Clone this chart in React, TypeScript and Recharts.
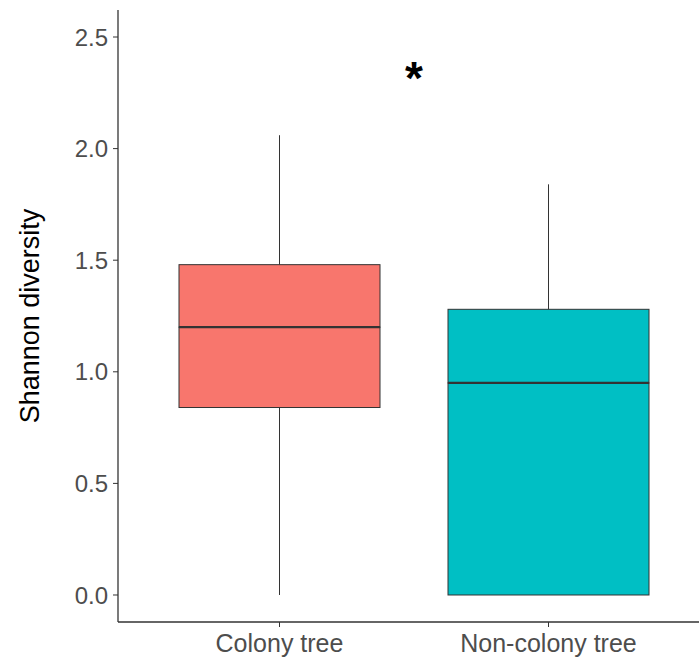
import React from "react";
import {
  ComposedChart,
  Bar,
  Cell,
  XAxis,
  YAxis,
  ReferenceArea,
} from "recharts";

const categories = ["Colony tree", "Non-colony tree"];
const minVals = [0, 0];
const q1Vals = [0.84, 0];
const medianVals = [1.2, 0.95];
const q3Vals = [1.48, 1.28];
const maxVals = [2.06, 1.84];
const yTicks = [0, 0.5, 1, 1.5, 2, 2.5];
const starValue = [2.32, 2.4];

const BOX_COLORS = ["#F8766D", "#00BFC4"];
const LINE = "#333333";
const FONT = "'Liberation Sans', Arial, sans-serif";

// stacked segments: invisible base, lower whisker, lower half box, upper half box, upper whisker
const data = categories.map((name, i) => ({
  name,
  base: minVals[i],
  lowWhisker: q1Vals[i] - minVals[i],
  lowBox: medianVals[i] - q1Vals[i],
  highBox: q3Vals[i] - medianVals[i],
  highWhisker: maxVals[i] - q3Vals[i],
}));

const Empty = () => <g />;

const Whisker = (props: any) => {
  const { x, y, width, height } = props;
  const cx = x + width / 2;
  return <line x1={cx} x2={cx} y1={y} y2={y + height} stroke={LINE} strokeWidth={1} />;
};

const BoxPart = (props: any) => {
  const { x, y, width, height, fill } = props;
  return (
    <rect x={x} y={y} width={width} height={Math.max(height, 0)} fill={fill} stroke={LINE} strokeWidth={1} />
  );
};

const UpperBox = (props: any) => {
  const { x, y, width, height, fill } = props;
  return (
    <g>
      <rect x={x} y={y} width={width} height={Math.max(height, 0)} fill={fill} stroke={LINE} strokeWidth={1} />
      <line x1={x} x2={x + width} y1={y + height} y2={y + height} stroke={LINE} strokeWidth={2.2} />
    </g>
  );
};

const StarLabel = (props: any) => {
  const vb = props.viewBox || {};
  const cx = vb.x + vb.width / 2;
  const cy = vb.y + vb.height / 2;
  const fs = 46;
  return (
    <text x={cx} y={cy + fs * 0.57} textAnchor="middle" fontSize={fs} fontWeight="bold" fill="#000" fontFamily={FONT}>
      *
    </text>
  );
};

const YTitle = (props: any) => {
  const vb = props.viewBox || {};
  const x = vb.x + 39;
  const y = vb.y + vb.height / 2;
  return (
    <text x={x} y={y} transform={`rotate(-90, ${x}, ${y})`} textAnchor="middle" fontSize={27} fill="#000" fontFamily={FONT}>
      Shannon diversity
    </text>
  );
};

export default function App() {
  return (
    <div style={{ position: "absolute", left: 0, top: 0, width: 699, height: 661, background: "#fff" }}>
      <ComposedChart
        width={699}
        height={661}
        data={data}
        margin={{ top: 10, right: 0, left: 0, bottom: 0 }}
        barSize={201}
      >
        <XAxis
          dataKey="name"
          type="category"
          height={39}
          padding={{ left: 27, right: 16 }}
          axisLine={{ stroke: LINE, strokeWidth: 1.3 }}
          tickLine={{ stroke: LINE, strokeWidth: 1 }}
          tickSize={5}
          tickMargin={7}
          tick={{ fill: "#4d4d4d", fontSize: 25, fontFamily: FONT }}
          interval={0}
        />
        <YAxis
          type="number"
          width={118}
          domain={[-0.121, 2.621]}
          allowDataOverflow
          ticks={yTicks}
          tickFormatter={(v: number) => v.toFixed(1)}
          axisLine={{ stroke: LINE, strokeWidth: 1.3 }}
          tickLine={{ stroke: LINE, strokeWidth: 1 }}
          tickSize={5}
          tickMargin={5}
          tick={{ fill: "#4d4d4d", fontSize: 24, fontFamily: FONT }}
          label={<YTitle />}
        />
        <Bar dataKey="base" stackId="box" shape={<Empty />} isAnimationActive={false} />
        <Bar dataKey="lowWhisker" stackId="box" shape={<Whisker />} isAnimationActive={false} />
        <Bar dataKey="lowBox" stackId="box" shape={<BoxPart />} isAnimationActive={false}>
          {categories.map((c, i) => (
            <Cell key={c} fill={BOX_COLORS[i]} />
          ))}
        </Bar>
        <Bar dataKey="highBox" stackId="box" shape={<UpperBox />} isAnimationActive={false}>
          {categories.map((c, i) => (
            <Cell key={c} fill={BOX_COLORS[i]} />
          ))}
        </Bar>
        <Bar dataKey="highWhisker" stackId="box" shape={<Whisker />} isAnimationActive={false} />
        <ReferenceArea
          x1={categories[0]}
          x2={categories[1]}
          y1={starValue[0]}
          y2={starValue[1]}
          fill="none"
          stroke="none"
          fillOpacity={0}
          label={<StarLabel />}
        />
      </ComposedChart>
    </div>
  );
}
